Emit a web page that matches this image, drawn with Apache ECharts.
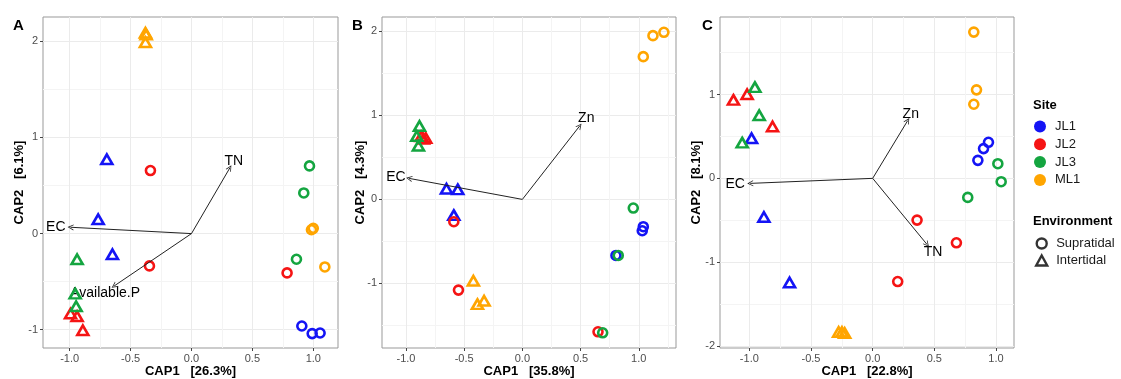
<!DOCTYPE html>
<html>
<head>
<meta charset="utf-8">
<script src="https://cdn.jsdelivr.net/npm/echarts@6/dist/echarts.min.js"></script>
<style>
  html, body { margin: 0; padding: 0; background: #fff; }
  #main { width: 1121px; height: 379px; }
</style>
</head>
<body>
<div id="main"></div>
<script>
// sites and colours
var sites = ['JL1', 'JL2', 'JL3', 'ML1'];
var siteColors = ['#1414f5', '#f51414', '#14a540', '#ffa500'];
var envs = ['Supratidal', 'Intertidal'];

// tick values
var xTicks = [-1, -0.5, 0, 0.5, 1];
var xMinor = [-1.25, -0.75, -0.25, 0.25, 0.75, 1.25];
var yTicks = [-2, -1, 0, 1, 2];
var yMinor = [-1.5, -0.5, 0.5, 1.5];

// axis ranges per panel
var xRangeA = [-1.219, 1.203], yRangeA = [-1.19, 2.253];
var xRangeB = [-1.206, 1.32],  yRangeB = [-1.768, 2.17];
var xRangeC = [-1.238, 1.146], yRangeC = [-2.024, 1.925];

// axis titles
var xNames = ['CAP1   [26.3%]', 'CAP1   [35.8%]', 'CAP1   [22.8%]'];
var yNames = ['CAP2   [6.1%]', 'CAP2   [4.3%]', 'CAP2   [8.1%]'];

// [site, environment, CAP1, CAP2]
var pointsA = [
  ['JL1','Supratidal',0.906,-0.961],['JL1','Supratidal',0.991,-1.04],['JL1','Supratidal',1.056,-1.034],
  ['JL1','Intertidal',-0.695,0.773],['JL1','Intertidal',-0.766,0.149],['JL1','Intertidal',-0.649,-0.215],
  ['JL2','Supratidal',-0.337,0.656],['JL2','Supratidal',-0.345,-0.336],['JL2','Supratidal',0.785,-0.409],
  ['JL2','Intertidal',-0.993,-0.832],['JL2','Intertidal',-0.939,-0.86],['JL2','Intertidal',-0.892,-1.006],
  ['JL3','Supratidal',0.969,0.704],['JL3','Supratidal',0.922,0.423],['JL3','Supratidal',0.862,-0.267],
  ['JL3','Intertidal',-0.939,-0.267],['JL3','Intertidal',-0.955,-0.624],['JL3','Intertidal',-0.947,-0.756],
  ['ML1','Supratidal',0.985,0.04],['ML1','Supratidal',1.0,0.055],['ML1','Supratidal',1.095,-0.347],
  ['ML1','Intertidal',-0.378,2.09],['ML1','Intertidal',-0.378,1.99],['ML1','Intertidal',-0.372,2.07]
];
var pointsB = [
  ['JL1','Supratidal',1.030,-0.373],['JL1','Supratidal',1.039,-0.325],['JL1','Supratidal',0.804,-0.667],
  ['JL1','Intertidal',-0.652,0.127],['JL1','Intertidal',-0.555,0.119],['JL1','Intertidal',-0.589,-0.187],
  ['JL2','Supratidal',-0.589,-0.266],['JL2','Supratidal',-0.549,-1.079],['JL2','Supratidal',0.650,-1.575],
  ['JL2','Intertidal',-0.87,0.75],['JL2','Intertidal',-0.83,0.73],['JL2','Intertidal',-0.85,0.72],
  ['JL3','Supratidal',0.953,-0.103],['JL3','Supratidal',0.824,-0.667],['JL3','Supratidal',0.690,-1.587],
  ['JL3','Intertidal',-0.884,0.873],['JL3','Intertidal',-0.907,0.754],['JL3','Intertidal',-0.893,0.639],
  ['ML1','Supratidal',1.039,1.698],['ML1','Supratidal',1.122,1.948],['ML1','Supratidal',1.216,1.988],
  ['ML1','Intertidal',-0.421,-0.968],['ML1','Intertidal',-0.386,-1.246],['ML1','Intertidal',-0.329,-1.206]
];
var pointsC = [
  ['JL1','Supratidal',0.939,0.430],['JL1','Supratidal',0.899,0.355],['JL1','Supratidal',0.853,0.215],
  ['JL1','Intertidal',-0.982,0.478],['JL1','Intertidal',-0.882,-0.462],['JL1','Intertidal',-0.674,-1.243],
  ['JL2','Supratidal',0.360,-0.498],['JL2','Supratidal',0.679,-0.769],['JL2','Supratidal',0.203,-1.231],
  ['JL2','Intertidal',-1.129,0.936],['JL2','Intertidal',-1.018,1.004],['JL2','Intertidal',-0.812,0.618],
  ['JL3','Supratidal',1.015,0.175],['JL3','Supratidal',1.042,-0.040],['JL3','Supratidal',0.771,-0.227],
  ['JL3','Intertidal',-0.955,1.088],['JL3','Intertidal',-0.920,0.753],['JL3','Intertidal',-1.058,0.426],
  ['ML1','Supratidal',0.820,1.745],['ML1','Supratidal',0.842,1.056],['ML1','Supratidal',0.820,0.884],
  ['ML1','Intertidal',-0.276,-1.833],['ML1','Intertidal',-0.227,-1.845],['ML1','Intertidal',-0.249,-1.833]
];

// environmental vectors: [name, tipX, tipY, labelX, labelY]
var vecA = [['EC',-0.993,0.066,-1.114,0.066],['TN',0.315,0.683,0.348,0.756],['Available.P',-0.635,-0.545,-0.709,-0.617]];
var vecB = [['EC',-0.973,0.25,-1.087,0.262],['Zn',0.492,0.873,0.549,0.964]];
var vecC = [['EC',-0.993,-0.060,-1.115,-0.072],['Zn',0.284,0.689,0.309,0.765],['TN',0.441,-0.789,0.490,-0.884]];

var panels = [
  { pts: pointsA, vec: vecA, xr: xRangeA, yr: yRangeA, left: 43,  width: 295 },
  { pts: pointsB, vec: vecB, xr: xRangeB, yr: yRangeB, left: 382, width: 294 },
  { pts: pointsC, vec: vecC, xr: xRangeC, yr: yRangeC, left: 720, width: 294 }
];
var yNameGaps = [17.5, 15.5, 17.5];
var FONT = 'Liberation Sans, Arial, sans-serif';
// open arrow head, pointing up
var ARROW = 'path://M0,10 L5,0 L10,10 L8.6,10 L5,2.8 L1.4,10 Z';

function inRange(vals, r) {
  return vals.filter(function (v) { return v >= r[0] && v <= r[1]; });
}

var grids = [], xAxes = [], yAxes = [], series = [];

panels.forEach(function (p, i) {
  grids.push({
    left: p.left, top: 17, width: p.width, height: 331,
    outerBoundsMode: 'none', containLabel: false,
    show: true, borderColor: '#999', borderWidth: 1, backgroundColor: '#fff'
  });
  // main axes
  xAxes.push({
    type: 'value', gridIndex: i, min: p.xr[0], max: p.xr[1], position: 'bottom',
    name: xNames[i], nameLocation: 'middle', nameGap: 17, nameMoveOverlap: false,
    nameTextStyle: { fontFamily: FONT, fontWeight: 'bold', fontSize: 13, color: '#000' },
    axisLine: { show: false, onZero: false },
    axisTick: { show: true, length: 3, lineStyle: { color: '#444' }, customValues: inRange(xTicks, p.xr) },
    axisLabel: { customValues: inRange(xTicks, p.xr), margin: 5, fontFamily: FONT, fontSize: 11, color: '#4d4d4d',
      formatter: function (v) { return v.toFixed(1); } },
    splitLine: { show: true, lineStyle: { color: '#ebebeb', width: 1 } }
  });
  yAxes.push({
    type: 'value', gridIndex: i, min: p.yr[0], max: p.yr[1], position: 'left',
    name: yNames[i], nameLocation: 'middle', nameGap: yNameGaps[i], nameRotate: 90, nameMoveOverlap: false,
    nameTextStyle: { fontFamily: FONT, fontWeight: 'bold', fontSize: 13, color: '#000' },
    axisLine: { show: false, onZero: false },
    axisTick: { show: true, length: 3, lineStyle: { color: '#444' }, customValues: inRange(yTicks, p.yr) },
    axisLabel: { customValues: inRange(yTicks, p.yr), margin: 5, fontFamily: FONT, fontSize: 11, color: '#4d4d4d',
      formatter: function (v) { return String(Math.round(v)); } },
    splitLine: { show: true, lineStyle: { color: '#ebebeb', width: 1 } }
  });
});

// minor grid axes
panels.forEach(function (p, i) {
  xAxes.push({
    type: 'value', gridIndex: i, min: p.xr[0], max: p.xr[1], position: 'top',
    axisLine: { show: false, onZero: false }, axisLabel: { show: false },
    axisTick: { show: false, customValues: inRange(xMinor, p.xr) },
    splitLine: { show: true, lineStyle: { color: '#f4f4f4', width: 1 } }
  });
  yAxes.push({
    type: 'value', gridIndex: i, min: p.yr[0], max: p.yr[1], position: 'right',
    axisLine: { show: false, onZero: false }, axisLabel: { show: false },
    axisTick: { show: false, customValues: inRange(yMinor, p.yr) },
    splitLine: { show: true, lineStyle: { color: '#f4f4f4', width: 1 } }
  });
});

panels.forEach(function (p, i) {
  // vectors: arrows from origin, labels at label positions
  series.push({
    type: 'scatter', name: 'vectors' + i, xAxisIndex: i, yAxisIndex: i,
    symbolSize: 0, itemStyle: { color: '#222' }, silent: true, z: 3,
    data: p.vec.map(function (v) { return { name: v[0], value: [v[3], v[4]] }; }),
    label: { show: true, position: 'inside', formatter: '{b}', fontFamily: FONT, fontSize: 14,
      color: '#000', textBorderWidth: 0, opacity: 1 },
    markLine: {
      silent: true, symbol: ['none', ARROW], symbolSize: 6, animation: false,
      label: { show: false },
      lineStyle: { color: '#222', width: 1, type: 'solid' },
      data: p.vec.map(function (v) { return [{ coord: [0, 0] }, { coord: [v[1], v[2]] }]; })
    }
  });
  sites.forEach(function (s, k) {
    series.push({
      type: 'scatter', name: s, xAxisIndex: i, yAxisIndex: i, z: 4,
      itemStyle: { color: 'rgba(0,0,0,0)', borderColor: siteColors[k], borderWidth: 2.6, opacity: 1 },
      data: p.pts.filter(function (r) { return r[0] === s; }).map(function (r) {
        var circ = r[1] === 'Supratidal';
        return { value: [r[2], r[3]], symbol: circ ? 'circle' : 'triangle', symbolSize: circ ? 9 : [11, 9.5] };
      })
    });
  });
});

// legend-only series for environment shapes
series.push({ type: 'scatter', name: 'Supratidal', xAxisIndex: 0, yAxisIndex: 0, data: [], symbol: 'circle',
  itemStyle: { color: 'rgba(0,0,0,0)', borderColor: '#000', borderWidth: 2.6 } });
series.push({ type: 'scatter', name: 'Intertidal', xAxisIndex: 0, yAxisIndex: 0, data: [], symbol: 'triangle',
  itemStyle: { color: 'rgba(0,0,0,0)', borderColor: '#000', borderWidth: 2.6 } });

var option = {
  animation: false,
  backgroundColor: '#fff',
  title: [
    { text: 'A', left: 13, top: 18, padding: 0, textStyle: { fontFamily: FONT, fontWeight: 'bold', fontSize: 15, color: '#000' } },
    { text: 'B', left: 352, top: 18, padding: 0, textStyle: { fontFamily: FONT, fontWeight: 'bold', fontSize: 15, color: '#000' } },
    { text: 'C', left: 702, top: 18, padding: 0, textStyle: { fontFamily: FONT, fontWeight: 'bold', fontSize: 15, color: '#000' } },
    { text: 'Site', left: 1033, top: 99, padding: 0, textStyle: { fontFamily: FONT, fontWeight: 'bold', fontSize: 13, color: '#000' } },
    { text: 'Environment', left: 1033, top: 215, padding: 0, textStyle: { fontFamily: FONT, fontWeight: 'bold', fontSize: 13, color: '#000' } }
  ],
  legend: [
    {
      orient: 'vertical', left: 1034, top: 120, padding: 0, itemWidth: 12, itemHeight: 12, itemGap: 4.8,
      selectedMode: false, icon: 'circle',
      textStyle: { fontFamily: FONT, fontSize: 13, color: '#1a1a1a', padding: [0, 0, 0, 4] },
      data: sites.map(function (s, k) { return { name: s, itemStyle: { color: siteColors[k], borderWidth: 0 } }; })
    },
    {
      orient: 'vertical', left: 1035, top: 237, padding: 0, itemWidth: 11, itemHeight: 10, itemGap: 4,
      selectedMode: false,
      textStyle: { fontFamily: FONT, fontSize: 13, color: '#1a1a1a', padding: [0, 0, 0, 4] },
      data: envs.map(function (e) { return { name: e, itemStyle: { color: 'rgba(0,0,0,0)', borderColor: '#000', borderWidth: 2.4 } }; })
    }
  ],
  grid: grids,
  xAxis: xAxes,
  yAxis: yAxes,
  series: series
};

var chart = echarts.init(document.getElementById('main'));
chart.setOption(option);
</script>
</body>
</html>
